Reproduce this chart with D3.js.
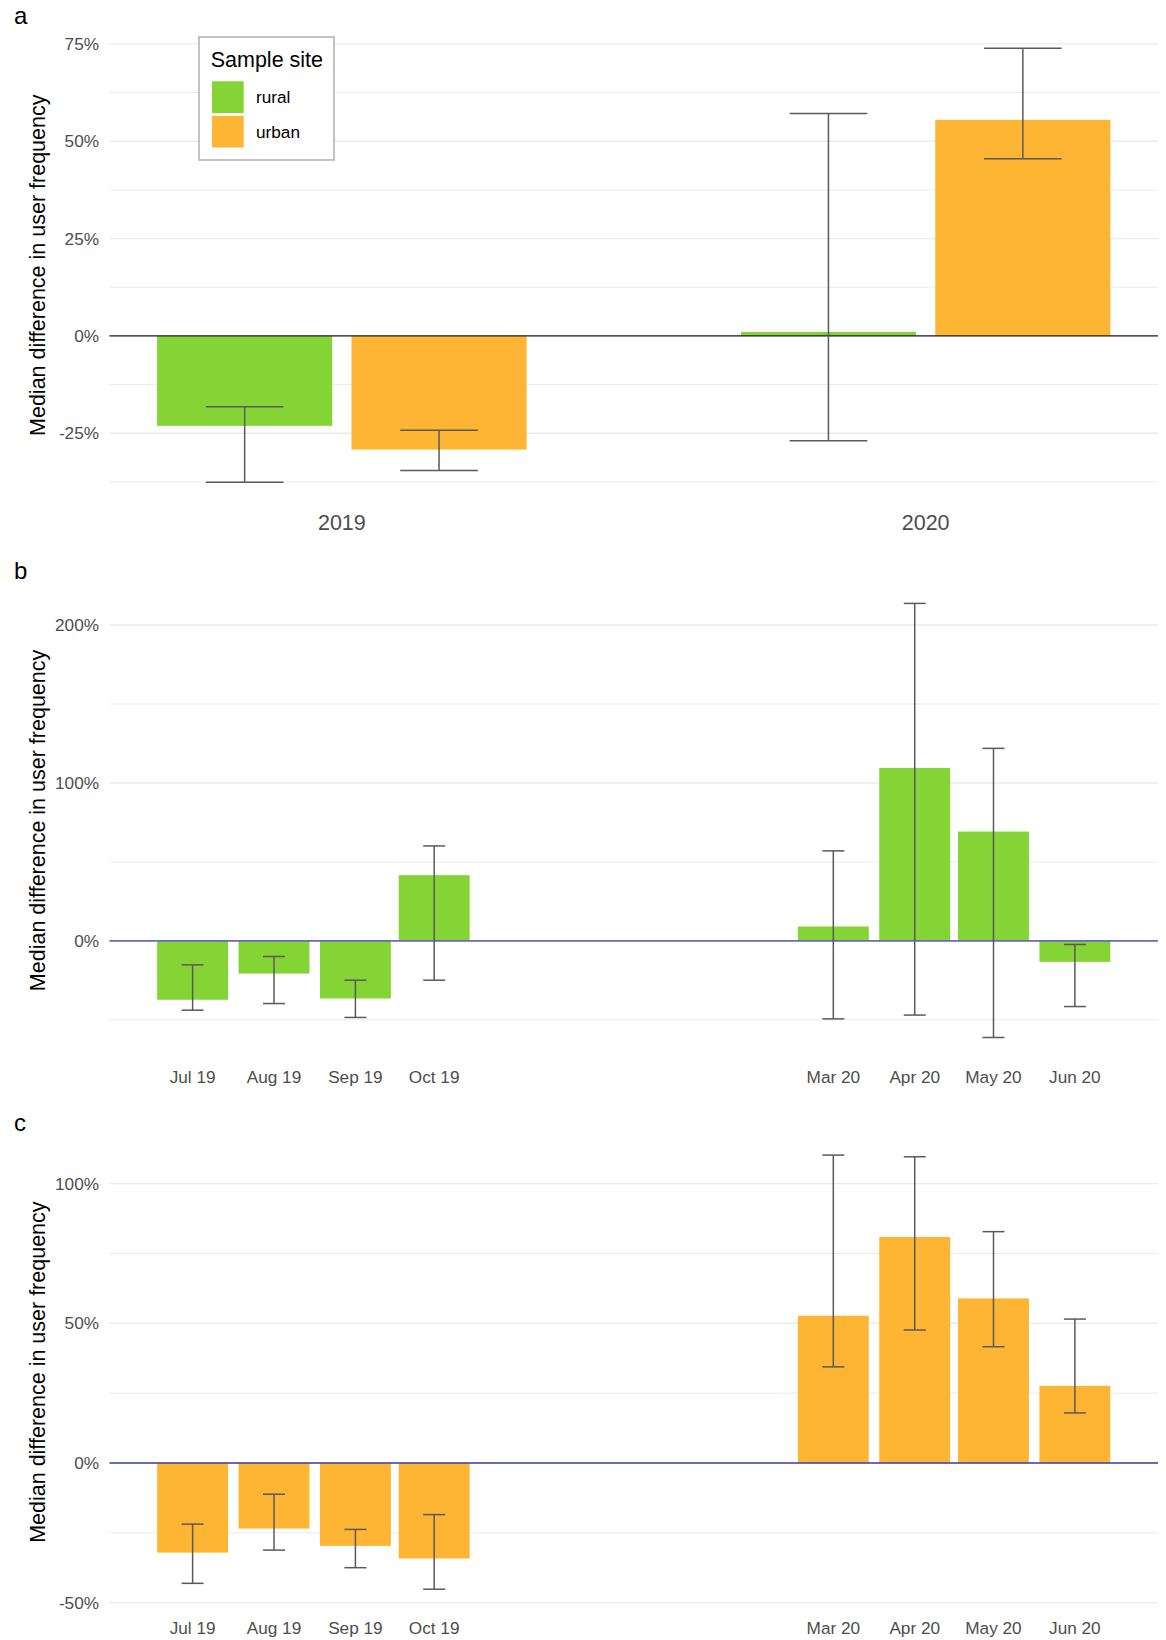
<!DOCTYPE html>
<html>
<head>
<meta charset="utf-8">
<script src="https://cdn.jsdelivr.net/npm/d3@7"></script>
<style>
  html, body { margin: 0; padding: 0; background: #fff; }
  svg { display: block; }
  text { font-family: "Liberation Sans", Arial, Helvetica, sans-serif; }
</style>
</head>
<body>
<div id="chart"></div>
<script>
// ---------------- DATA ----------------
const years = ["2019", "2020"];
const sites = ["rural", "urban"];
const siteColors = ["#83d434", "#fdb533"];

// Panel a: yearly medians (%), with error-bar limits
const yearRural     = [-23.1, 1.0];
const yearRuralLow  = [-37.6, -26.9];
const yearRuralHigh = [-18.2, 57.1];
const yearUrban     = [-29.2, 55.5];
const yearUrbanLow  = [-34.6, 45.5];
const yearUrbanHigh = [-24.2, 73.9];

// Panels b and c: monthly medians (%)
const months = ["2019-07-01", "2019-08-01", "2019-09-01", "2019-10-01",
                "2020-03-01", "2020-04-01", "2020-05-01", "2020-06-01"];
const ruralMonth     = [-37.3, -20.7, -36.5, 41.6, 9.1, 109.5, 69.2, -13.3];
const ruralMonthLow  = [-43.9, -39.7, -48.5, -24.9, -49.4, -47.0, -61.2, -41.6];
const ruralMonthHigh = [-15.2, -9.9, -24.9, 60.1, 57.0, 213.7, 121.9, -2.3];
const urbanMonth     = [-32.1, -23.5, -29.7, -34.2, 52.7, 80.9, 58.9, 27.6];
const urbanMonthLow  = [-43.1, -31.2, -37.5, -45.2, 34.4, 47.6, 41.6, 17.9];
const urbanMonthHigh = [-21.9, -11.2, -23.8, -18.5, 110.2, 109.6, 82.8, 51.5];

// Tick labels
const yTicksA = [-25, 0, 25, 50, 75];
const yTicksB = [0, 100, 200];
const yTicksC = [-50, 0, 50, 100];
const panelLetters = ["a", "b", "c"];
const yTitle = "Median difference in user frequency";
const legendTitle = "Sample site";

// ---------------- LAYOUT ----------------
const W = 1166, H = 1640;
const plotLeft = 109.5, plotRight = 1158;
const panelTops = [26.5, 581.7, 1133.4];
const panelH = 477.5;
const gridColor = "#ebebeb";
const axisTextColor = "#4d4d4d";
const errColor = "#5a5a5a";

const svg = d3.select("#chart").append("svg")
  .attr("width", W).attr("height", H)
  .attr("viewBox", `0 0 ${W} ${H}`);

const pct = d => d + "%";

function expandedDomain(vals) {
  const lo = d3.min(vals), hi = d3.max(vals);
  const pad = (hi - lo) * 0.05;
  return [lo - pad, hi + pad];
}

function drawYAxis(g, y, ticks, top) {
  const step = ticks[1] - ticks[0];
  const [d0, d1] = y.domain();
  // minor gridlines
  const minor = [];
  for (let v = ticks[0] - step / 2; v <= d1; v += step) {
    if (v >= d0 && v <= d1) minor.push(v);
  }
  g.append("g").selectAll("line").data(minor).join("line")
    .attr("x1", plotLeft).attr("x2", plotRight)
    .attr("y1", d => y(d)).attr("y2", d => y(d))
    .attr("stroke", gridColor).attr("stroke-width", 1);
  g.append("g").selectAll("line").data(ticks).join("line")
    .attr("x1", plotLeft).attr("x2", plotRight)
    .attr("y1", d => y(d)).attr("y2", d => y(d))
    .attr("stroke", gridColor).attr("stroke-width", 1.4);
  g.append("g").selectAll("text").data(ticks).join("text")
    .attr("x", 99).attr("y", d => y(d)).attr("dy", "0.35em")
    .attr("text-anchor", "end")
    .attr("font-size", 17.2).attr("fill", axisTextColor)
    .text(pct);
  // y title
  const cy = top + panelH / 2;
  g.append("text")
    .attr("transform", `translate(44.7,${cy}) rotate(-90)`)
    .attr("text-anchor", "middle")
    .attr("font-size", 21.5).attr("fill", "#000")
    .text(yTitle);
}

function drawErrorBars(g, xs, lows, highs, y, capW) {
  const eg = g.append("g").attr("stroke", errColor).attr("stroke-width", 1.5).attr("fill", "none");
  xs.forEach((cx, i) => {
    eg.append("line").attr("x1", cx).attr("x2", cx).attr("y1", y(lows[i])).attr("y2", y(highs[i]));
    eg.append("line").attr("x1", cx - capW / 2).attr("x2", cx + capW / 2).attr("y1", y(lows[i])).attr("y2", y(lows[i]));
    eg.append("line").attr("x1", cx - capW / 2).attr("x2", cx + capW / 2).attr("y1", y(highs[i])).attr("y2", y(highs[i]));
  });
}

function drawZero(g, y, color, w) {
  g.append("line")
    .attr("x1", plotLeft).attr("x2", plotRight)
    .attr("y1", y(0)).attr("y2", y(0))
    .attr("stroke", color).attr("stroke-width", w);
}

function panelLetter(i, baseline) {
  svg.append("text").attr("x", 14).attr("y", baseline)
    .attr("font-size", 24).attr("fill", "#000").text(panelLetters[i]);
}

// ---------------- PANEL A ----------------
{
  const top = panelTops[0];
  const g = svg.append("g");
  const y = d3.scaleLinear()
    .domain(expandedDomain([...yearRural, ...yearRuralLow, ...yearRuralHigh,
                            ...yearUrban, ...yearUrbanLow, ...yearUrbanHigh, 0]))
    .range([top + panelH, top]);
  const x = d3.scalePoint().domain(years).range([plotLeft, plotRight]).padding(0.398);
  const step = x.step();
  const barW = 0.3 * step, off = 0.1665 * step, capW = 0.133 * step;

  drawYAxis(g, y, yTicksA, top);

  const series = [
    { vals: yearRural, lo: yearRuralLow, hi: yearRuralHigh, color: siteColors[0], d: -off },
    { vals: yearUrban, lo: yearUrbanLow, hi: yearUrbanHigh, color: siteColors[1], d: off }
  ];
  series.forEach(s => {
    g.append("g").selectAll("rect").data(years).join("rect")
      .attr("x", (yr) => x(yr) + s.d - barW / 2)
      .attr("width", barW)
      .attr("y", (yr, i) => y(Math.max(0, s.vals[i])))
      .attr("height", (yr, i) => Math.abs(y(s.vals[i]) - y(0)))
      .attr("fill", s.color);
  });
  drawZero(g, y, "#1e1e1e", 1.4);
  series.forEach(s => {
    drawErrorBars(g, years.map(yr => x(yr) + s.d), s.lo, s.hi, y, capW);
  });

  g.append("g").selectAll("text").data(years).join("text")
    .attr("x", d => x(d)).attr("y", top + panelH + 26)
    .attr("text-anchor", "middle").attr("font-size", 21.5).attr("fill", axisTextColor)
    .text(d => d);

  // legend
  const lg = g.append("g");
  lg.append("rect").attr("x", 199).attr("y", 37).attr("width", 135).attr("height", 123)
    .attr("fill", "#fff").attr("stroke", "#b5b5b5").attr("stroke-width", 1.6);
  lg.append("text").attr("x", 210.7).attr("y", 66.7).attr("font-size", 21.5).attr("fill", "#000").text(legendTitle);
  sites.forEach((s, i) => {
    lg.append("rect").attr("x", 212).attr("y", 81.3 + i * 34.5).attr("width", 31.7).attr("height", 31.7)
      .attr("fill", siteColors[i]);
    lg.append("text").attr("x", 256).attr("y", 97.2 + i * 34.5).attr("dy", "0.35em")
      .attr("font-size", 17.2).attr("fill", "#000").text(s);
  });

  panelLetter(0, 24);
}

// ---------------- PANELS B, C ----------------
const monthDates = months.map(m => new Date(m + "T00:00:00Z"));
const DAY = 86400000;
const barDays = 27; // 0.9 * 30-day resolution
const span = (monthDates[monthDates.length - 1] - monthDates[0]) + barDays * DAY;
const xPad = 0.05 * span;
const xMonth = d3.scaleUtc()
  .domain([new Date(+monthDates[0] - barDays * DAY / 2 - xPad),
           new Date(+monthDates[monthDates.length - 1] + barDays * DAY / 2 + xPad)])
  .range([plotLeft, plotRight]);
const monthFmt = d3.utcFormat("%b %y");

function monthPanel(idx, vals, lo, hi, color, ticks, zeroColor, letterBaseline) {
  const top = panelTops[idx];
  const g = svg.append("g");
  const y = d3.scaleLinear()
    .domain(expandedDomain([...vals, ...lo, ...hi, 0]))
    .range([top + panelH, top]);
  drawYAxis(g, y, ticks, top);

  g.append("g").selectAll("rect").data(monthDates).join("rect")
    .attr("x", d => xMonth(new Date(+d - barDays * DAY / 2)))
    .attr("width", d => xMonth(new Date(+d + barDays * DAY / 2)) - xMonth(new Date(+d - barDays * DAY / 2)))
    .attr("y", (d, i) => y(Math.max(0, vals[i])))
    .attr("height", (d, i) => Math.abs(y(vals[i]) - y(0)))
    .attr("fill", color);

  drawZero(g, y, zeroColor, 1.6);
  const barPx = xMonth(new Date(+monthDates[0] + barDays * DAY)) - xMonth(monthDates[0]);
  drawErrorBars(g, monthDates.map(d => xMonth(d)), lo, hi, y, 0.31 * barPx);

  g.append("g").selectAll("text").data(monthDates).join("text")
    .attr("x", d => xMonth(d)).attr("y", top + panelH + 23.4)
    .attr("text-anchor", "middle").attr("font-size", 17.2).attr("fill", axisTextColor)
    .text(d => monthFmt(d));

  panelLetter(idx, letterBaseline);
}

monthPanel(1, ruralMonth, ruralMonthLow, ruralMonthHigh, siteColors[0], yTicksB, "#6a6abb", 579);
monthPanel(2, urbanMonth, urbanMonthLow, urbanMonthHigh, siteColors[1], yTicksC, "#3c3ca8", 1131);
</script>
</body>
</html>
